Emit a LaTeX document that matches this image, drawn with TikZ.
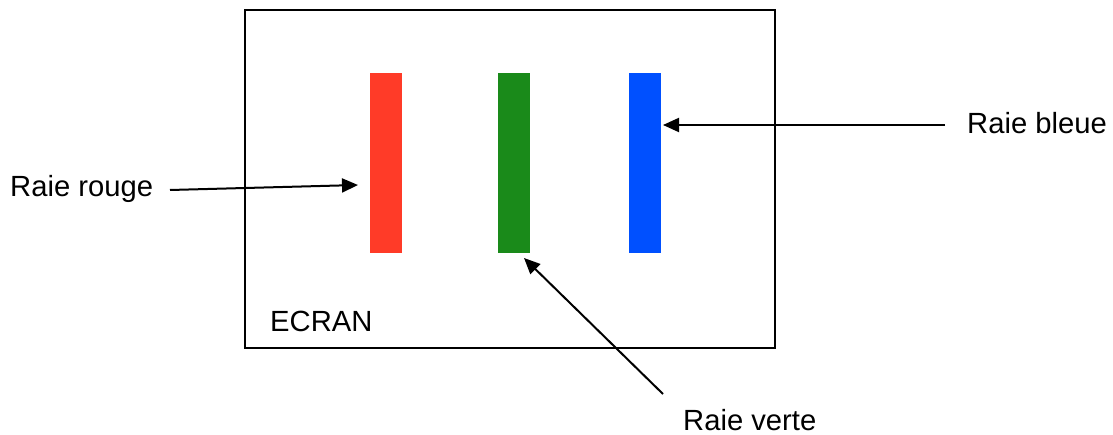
\documentclass[tikz,border=0pt]{standalone}
\usepackage{fontspec}
\setmainfont{Liberation Sans}
\usetikzlibrary{arrows.meta}
\definecolor{raired}{HTML}{FF3B28}
\definecolor{raigreen}{HTML}{1A8A1A}
\definecolor{raiblue}{HTML}{0050FF}
\tikzset{
  bar/.style={inner sep=0pt, minimum width=32pt, minimum height=180pt},
  lbl/.style={inner sep=0pt, font=\fontsize{29.2}{35}\selectfont},
  arr/.style={line width=2pt, -{Triangle[length=16pt,width=14pt]}},
}
\begin{document}
\begin{tikzpicture}[x=1pt,y=-1pt]
\useasboundingbox (0,0) rectangle (1113,435);
\node[draw, line width=1.8pt, inner sep=0pt, minimum width=530pt, minimum height=338pt] (ecran) at (510,179) {};
\node[bar, fill=raired] (rouge) at (386,163) {};
\node[bar, fill=raigreen] (verte) at (514,163) {};
\node[bar, fill=raiblue] (bleue) at (645,163) {};
\node[lbl, anchor=base west] (trouge) at (10,197) {Raie rouge};
\node[lbl, anchor=base west] (tbleue) at (967,134) {Raie bleue};
\node[lbl, anchor=base west] (tverte) at (683,430) {Raie verte};
\node[lbl, anchor=base west] (tecran) at (270,332) {ECRAN};
\coordinate (rs) at (170,190);
\coordinate (re) at (358,185);
\coordinate (bs) at (945,125);
\coordinate (be) at (663,125);
\coordinate (vs) at (663,394);
\coordinate (ve) at (524,258);
\draw[arr] (rs) -- (re);
\draw[arr] (bs) -- (be);
\draw[arr] (vs) -- (ve);
\end{tikzpicture}
\end{document}
